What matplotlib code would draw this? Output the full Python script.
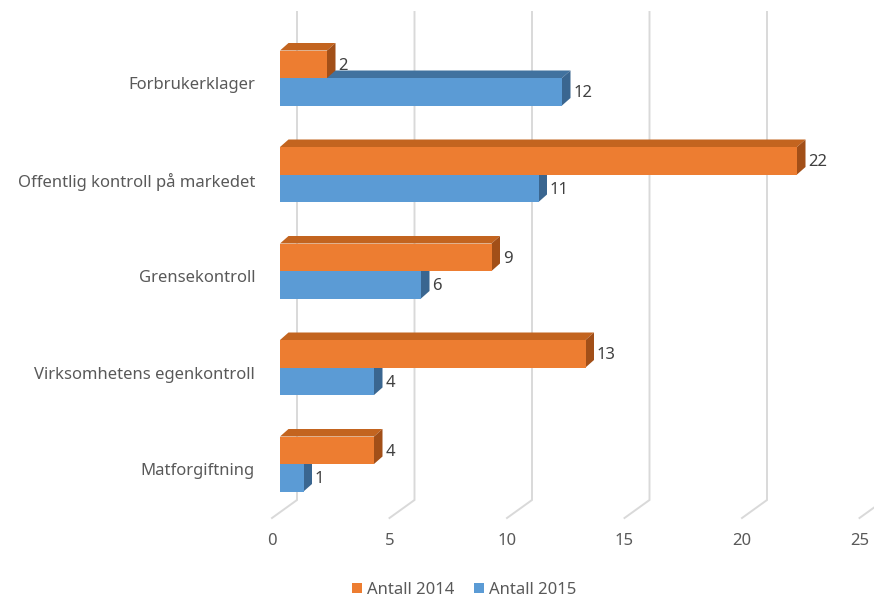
import matplotlib
matplotlib.use("Agg")
import matplotlib.pyplot as plt
from matplotlib.patches import Polygon, Rectangle, Patch

categories = ["Forbrukerklager", "Offentlig kontroll på markedet", "Grensekontroll",
              "Virksomhetens egenkontroll", "Matforgiftning"]
antall_2014 = [2, 22, 9, 13, 4]
antall_2015 = [12, 11, 6, 4, 1]
series_names = ["Antall 2014", "Antall 2015"]
xticks = [0, 5, 10, 15, 20, 25]

plt.rcParams['font.family'] = ['Noto Sans', 'DejaVu Sans']
TXT = "#595959"
GRID = "#D9D9D9"
FS = 12

W, H = 874, 597
fig = plt.figure(figsize=(W / 100, H / 100), dpi=100)
ax = fig.add_axes([0, 0, 1, 1])
ax.axis("off")

x0px, xs = 280.0, 23.5     # value 0 at px 280, 23.5 px per unit
y0px, ys = 78.0, 96.5      # category boundary 0 at px 78, 96.5 px per category
ax.set_xlim((0 - x0px) / xs, (W - x0px) / xs)
ax.set_ylim((H - y0px) / ys, (0 - y0px) / ys)

h = 27.5 / ys        # bar thickness
dx = 8.5 / xs        # depth offset x
dy = 7.5 / ys        # depth offset y (upwards)
gback = 17.0 / xs    # back-wall offset of gridlines
gfront = -8.0 / xs   # front end of floor lines
ytop = (12 - y0px) / ys
yfb = (500 - y0px) / ys
yff = (518 - y0px) / ys
ylab = (541 - y0px) / ys

for v in xticks:
    ax.plot([v + gback, v + gback, v + gfront], [ytop, yfb, yff],
            color=GRID, lw=1.4, zorder=1, solid_joinstyle="miter")
    ax.text(v + gfront, ylab, str(v), ha="center", va="center",
            fontsize=FS, color=TXT)

colors = {
    "Antall 2014": ("#ED7D31", "#C3641F", "#A24F18"),
    "Antall 2015": ("#5B9BD5", "#41729F", "#3A6690"),
}

def bar3d(y_top, val, cols, z):
    front, top, side = cols
    ax.add_patch(Polygon([(0, y_top), (val, y_top), (val + dx, y_top - dy), (dx, y_top - dy)],
                         closed=True, facecolor=top, edgecolor="none", zorder=z))
    ax.add_patch(Polygon([(val, y_top), (val, y_top + h), (val + dx, y_top + h - dy),
                          (val + dx, y_top - dy)],
                         closed=True, facecolor=side, edgecolor="none", zorder=z))
    ax.add_patch(Rectangle((0, y_top), val, h, facecolor=front, edgecolor="none", zorder=z + 0.1))
    ax.text(val + dx + 3.0 / xs, y_top + h / 2 + 1.5 / ys, str(val), ha="left", va="center",
            fontsize=FS, color="#404040", zorder=z + 1)

for i, cat in enumerate(categories):
    c = i
    bar3d(c, antall_2015[i], colors["Antall 2015"], 2 + i)
    bar3d(c - h, antall_2014[i], colors["Antall 2014"], 2.5 + i)
    ax.text(-25.0 / xs, c + 7.0 / ys, cat, ha="right", va="center",
            fontsize=FS, color=TXT)

handles = [Patch(facecolor=colors[n][0], edgecolor="none", label=n) for n in series_names]
fig.legend(handles=handles, loc="center", bbox_to_anchor=(464 / W, 1 - 590 / H), ncol=2,
           frameon=False, fontsize=FS, handlelength=0.6, handleheight=0.6,
           handletextpad=0.3, columnspacing=1.2, labelcolor=TXT)

fig.savefig("out.png", dpi=100, facecolor="white")
